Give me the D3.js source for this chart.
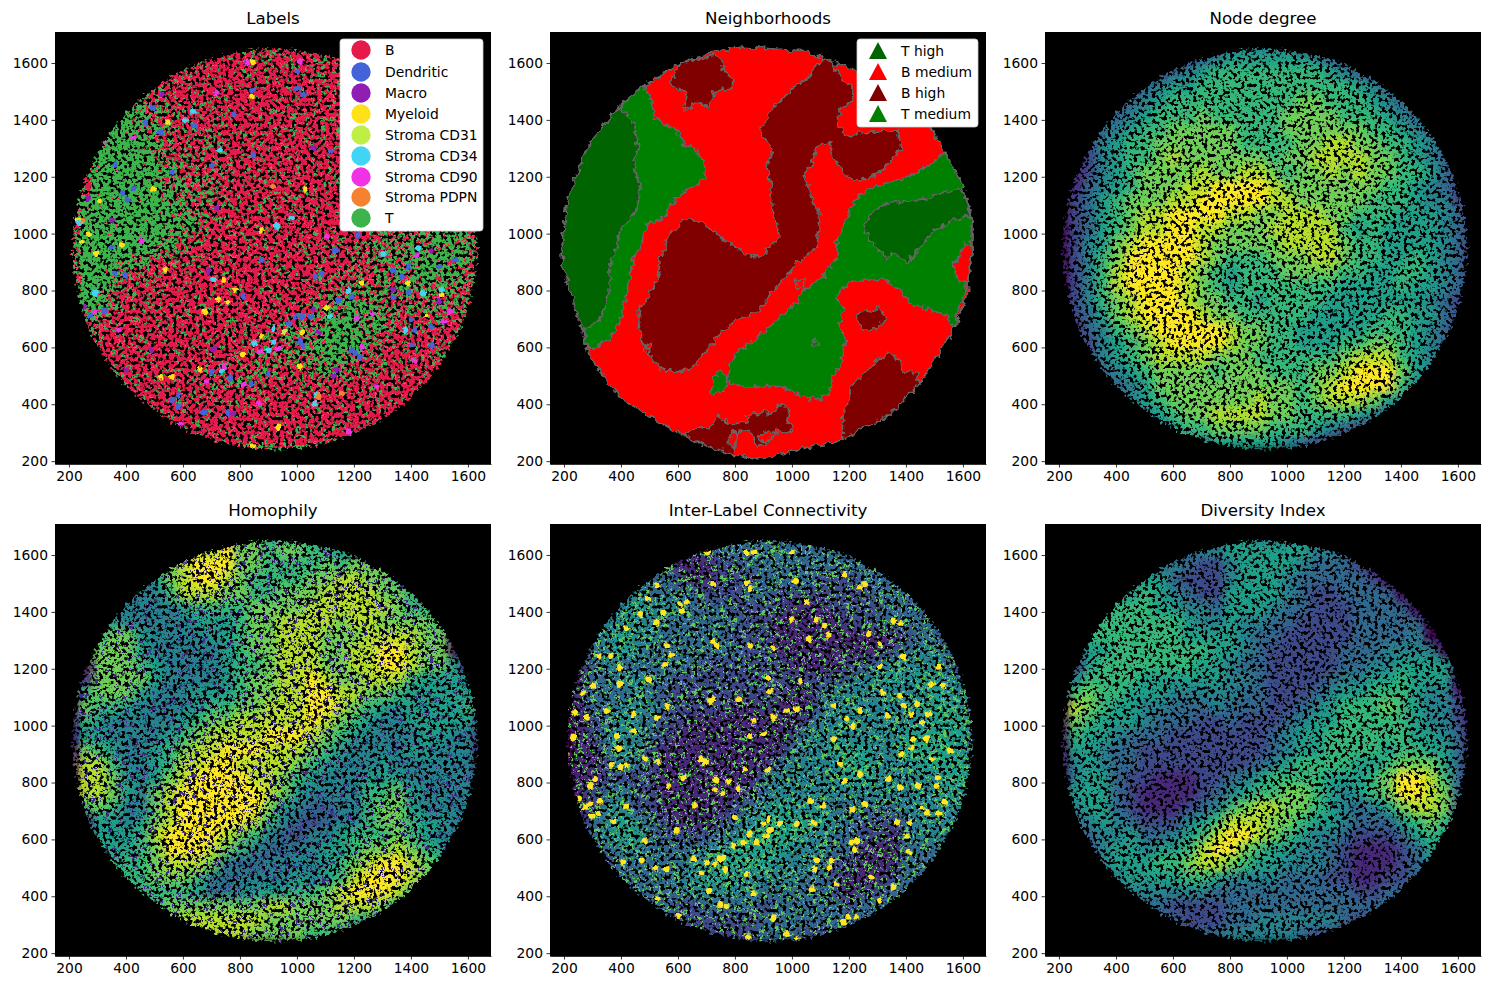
<!DOCTYPE html>
<html>
<head>
<meta charset="utf-8">
<script src="https://cdn.jsdelivr.net/npm/d3@7"></script>
<style>
html, body { margin: 0; padding: 0; background: #fff; }
text { font-family: "DejaVu Sans", sans-serif; fill: #000; }
</style>
</head>
<body>
<svg id="chart" width="1490" height="990"></svg>
<script>
const xTicks = [200, 400, 600, 800, 1000, 1200, 1400, 1600];
const yTicks = [200, 400, 600, 800, 1000, 1200, 1400, 1600];
const titles = ['Labels', 'Neighborhoods', 'Node degree', 'Homophily', 'Inter-Label Connectivity', 'Diversity Index'];

const labelNames = ['B', 'Dendritic', 'Macro', 'Myeloid', 'Stroma CD31', 'Stroma CD34', 'Stroma CD90', 'Stroma PDPN', 'T'];
const labelColors = ['#e6194b', '#4363d8', '#911eb4', '#ffe119', '#bfef45', '#42d4f4', '#f032e6', '#f58231', '#3cb44b'];
const hoodNames = ['T high', 'B medium', 'B high', 'T medium'];
const hoodColors = ['#006400', '#ff0000', '#800000', '#008000'];

// each grid: 50 unit cells, first row is y 1640-1690, first column x 180-230
const gridX0 = 180, gridYTop = 1690, gridStep = 50;

// share of T cells per grid cell, 0-9, rest is B
const labelsT = [
'000000000000552222000000000000',
'000000000321111222211000000000',
'000000034111111112222000000000',
'000005522111111111112100000000',
'000044431111111111111110000000',
'000666532211111111111111000000',
'006876543211111111111111110000',
'007887543321111111111111110000',
'018987644321111111111111100000',
'018887754321111111211111110000',
'018888755431111121111111111100',
'078888765432111111111111111110',
'088898876532111111112234445550',
'088898776421111111122345556660',
'088887654211111111122345556660',
'088766532111111112223445666650',
'088644321111111112234445566650',
'088432211111111112334445665550',
'087322111111111123455545544440',
'066211111111111234567653234330',
'043211111111122345677643223320',
'032111111111233456787532223320',
'022111111122334555665322222220',
'001211111223343334553221222200',
'000111111233322222222211122000',
'000011111222221111111111110000',
'000001111111111111111111100000',
'000000111111111111111110000000',
'000000001111111111110000000000'];

const nodeDegree = [
'000000000000344440000000000000',
'000000000234555555432000000000',
'000000023456666666654320000000',
'000002345566666666666543200000',
'000023456666666667766654320000',
'000234566676666677776665432000',
'002345667777766677777766543200',
'002456677777766667788776654200',
'012456678777777677888877654320',
'012456777787788767787877665320',
'013456777889999877777776654320',
'023567778899999887777766654421',
'023567889999887788877666555431',
'023567889988777888886565555431',
'024578999987777788887665555431',
'024679999987666777887665565431',
'024689999876566677776655665431',
'024689999876566666665555655431',
'024678999877665666655555554321',
'023578999987766666555556655321',
'013467899999877665555566654310',
'012456789999877665556677654320',
'012456788887776666667888654310',
'001345677776777666778999754200',
'000234577777777776789999643000',
'000234567777778776788875420000',
'000012456778888776666543200000',
'000001235667777666543210000000',
'000000012345555543210000000000'];

const homophily = [
'000000000000776666000000000000',
'000000000889776776654000000000',
'000000078999776666767770000000',
'000003578998766667788776000000',
'000034468887766777888877600000',
'000344445666677778888887660000',
'002544444555677888878877776000',
'006775444455677888777888877000',
'007775444445677888778899877000',
'007776544445667888778899877500',
'017777544445677889877888655550',
'067775444555677889988776555550',
'076654444566778889987655555560',
'065444445677888889876544555550',
'055444456788889998765444455440',
'076544567889998887654444554440',
'088644568899888876544454444440',
'088754578999988765444555444440',
'088754789999998754444667544440',
'067644789999997543344677544440',
'015545789999986432344677655430',
'015556899998764324456667654430',
'016556799987643344556778765430',
'006666788874334444567899876400',
'000566777643444454568999876000',
'000056666534455566789998640000',
'000006677777778877788875500000',
'000000678888887777776543000000',
'000000006888877776650000000000'];

const interLabel = [
'000000000000333333000000000000',
'000000000223333333333000000000',
'000000021112233333333330000000',
'000003332112223333222333000000',
'000034333322233222222233300000',
'000345444333222211122223330000',
'003444433333322111112233333000',
'003454433333222111111111233000',
'013454333333322111111112344300',
'013433333322222211112234444300',
'013344332222222222223445454430',
'023334322222222211344444445441',
'013344432222112111344444455541',
'012344322111111112444444445551',
'012444321111111124444444555551',
'011344211111111134455544555541',
'011243211111111344445544455551',
'011222211111113444445544444551',
'012342211111123444444444444541',
'012442211111234544433333444441',
'013454321112345555543222344430',
'003455322223455554433221344430',
'002344333344555544433111333320',
'001233333445555444322111333200',
'000233334455444443321112332000',
'000023333444443333321223330000',
'000002332233332333332333300000',
'000000232222223333333320000000',
'000000002222223332220000000000'];

const diversity = [
'000000000000554444000000000000',
'000000000344555555443000000000',
'000000034322455554333200000000',
'000004553222455543333320000000',
'000055654322555543223333000000',
'000566655443555433222333300000',
'005666666544544332222333330000',
'006666666555543322222333340000',
'015566666665543222223334444000',
'015666666655433222223344555500',
'046666555555443222234455655500',
'067665554444433222345566654410',
'087655443334333223456667654420',
'076555433322322234556666654420',
'065543332222222345566666655430',
'055433222222222345566665665530',
'045433222222223456666556777530',
'045532211122345666655567998630',
'055532111123456677654567998730',
'045532111234678877654345788720',
'034543222456888776554333567620',
'023445334568998765443222356520',
'012455455689976554432111235420',
'002455566788765544432111234300',
'000345555665444433322112233000',
'000034444443333333333223330000',
'000002332222333333333333300000',
'000000233222334444443220000000',
'000000002233444443220000000000'];

// scattered minor cell types in the Labels panel
const dendriticPts = [[1003,1512],[1020,1490],[842,1505],[495,1441],[467,1389],[519,1357],[846,1276],[389,1142],[425,1160],[361,1241],[405,1120],[640,1380],[700,1240],[1180,1340],[1120,1290],[1000,1570],[780,1420],[560,1215],[1204,579],[1222,567],[970,684],[993,708],[1017,708],[1046,708],[1146,766],[1192,778],[1087,860],[1064,848],[1339,872],[1368,848],[1391,884],[1339,778],[1391,795],[1415,661],[1403,696],[1473,672],[1473,608],[1403,608],[1011,620],[1023,602],[584,432],[561,414],[584,391],[672,370],[759,368],[1192,590],[327,731],[274,713],[362,860],[397,854],[701,514],[765,491],[900,508],[841,473],[1497,884],[1555,907],[1134,942],[1216,995],[350,954],[876,907],[812,778]];
const macroPts = [[719,1090],[1056,1301],[351,1048],[267,1125],[526,1491],[689,866],[490,590],[709,593],[1075,655],[1058,734],[1339,804],[1473,944],[1497,760],[256,743],[403,520],[1128,500],[1140,522],[777,368]];
const myeloidPts = [[846,1603],[842,1484],[547,1389],[1028,1157],[495,1157],[309,1114],[232,1048],[267,998],[874,1013],[245,971],[297,930],[385,960],[537,872],[742,837],[783,801],[724,769],[756,760],[678,723],[876,641],[809,575],[1019,655],[1105,740],[1227,827],[1456,713],[1508,784],[1391,825],[561,497],[520,497],[660,523],[1009,534],[935,318],[845,253]];
const cd31Pts = [[956,655]];
const cd34Pts = [[635,1428],[607,1399],[730,1294],[982,1055],[930,1027],[239,1037],[291,790],[917,620],[900,590],[736,514],[853,614],[707,837],[1116,708],[1181,801],[1303,928],[1426,948],[1444,790],[1380,661],[1508,804],[1064,403],[1069,432],[917,667]];
const cd90Pts = [[719,1494],[1010,1603],[825,1603],[425,1336],[319,1322],[1420,925],[871,584],[742,532],[935,596],[373,661],[291,725],[455,977],[590,327],[1181,303],[1537,727],[1514,690],[1280,461],[1227,602],[812,471],[1210,702],[1409,555],[683,482],[865,403],[1105,989],[1263,719]];
const pdpnPts = [[916,1164],[249,1048],[1157,438],[1075,426]];

// bright cells in the Inter-Label panel
const interLabelHigh = [[865,1611],[841,1607],[999,1609],[1011,1509],[841,1503],[853,1480],[724,1498],[703,1609],[631,1433],[607,1427],[496,1445],[525,1494],[613,1404],[549,1395],[467,1392],[525,1363],[420,1342],[736,1281],[724,1298],[560,1283],[362,1245],[321,1243],[286,1278],[578,1248],[555,1213],[496,1163],[268,1116],[303,1140],[397,1146],[239,1048],[350,1052],[443,1040],[525,1028],[560,1070],[397,1204],[853,1281],[935,1271],[1058,1304],[1268,1322],[1309,1286],[1356,1369],[1380,1357],[1087,1372],[1052,1435],[1239,1486],[1257,1498],[1186,1533],[999,1374],[1116,1351],[1128,1320],[1391,1242],[1309,1207],[1514,1207],[1491,1146],[1532,1140],[917,1167],[1029,1158],[923,1120],[724,1093],[713,1087],[812,1093],[982,1052],[1017,1058],[1145,1070],[1192,1023],[1239,1052],[1333,1034],[1420,1040],[1479,1040],[1456,1009],[1391,1070],[1321,1116],[1380,1105],[1438,1075],[865,1017],[935,1029],[853,964],[1216,999],[900,970],[1473,952],[1426,952],[1145,952],[385,964],[443,982],[280,1028],[233,958],[204,982],
[209,900],[695,870],[683,882],[917,844],[835,847],[291,788],[309,812],[256,744],[327,736],[291,724],[274,715],[297,683],[321,689],[373,663],[418,715],[484,882],[397,855],[367,862],[420,861],[531,874],[566,788],[730,773],[756,763],[812,777],[777,803],[734,808],[619,818],[660,718],[800,679],[596,630],[958,656],[1017,656],[923,630],[912,613],[876,589],[853,618],[900,654],[917,671],[830,589],[795,577],[759,536],[742,530],[730,513],[701,519],[654,534],[765,492],[841,478],[683,484],[710,419],[771,366],[748,369],[601,331],[560,495],[520,499],[408,522],[473,527],[528,393],[1064,736],[1110,718],[1075,659],[1227,595],[1210,589],[1222,566],[1087,527],[1140,525],[1131,503],[1081,495],[1069,425],[1157,443],[1198,325],[1181,308],[1225,328],[1280,466],[1356,431],[1309,384],[1409,557],[1368,659],[1415,659],[1403,613],[1456,712],[1473,695],[1514,691],[1537,732],[1508,788],[1444,788],[1339,812],[1380,783],[1257,724],[1213,703],[1239,829],[1169,865],[1186,806],[1491,882],[1420,923],[1385,900],[1555,912],[1514,818],[935,323],[982,267],[1017,249],[845,257],[865,407],[391,921],[484,595]];

// neighborhood outlines, in the same x/y units as the axes
const tissueEdge = [[747,1645],[818,1656],[1028,1645],[1109,1617],[1214,1575],[1379,1494],[1495,1364],[1530,1283],[1590,1188],[1632,1058],[1632,932],[1614,777],[1565,661],[1449,474],[1333,355],[1168,274],[1018,239],[881,204],[782,228],[618,291],[407,415],[291,566],[263,661],[197,882],[193,949],[211,1107],[246,1213],[291,1318],[397,1452],[484,1522],[607,1600]];
const tMediumLeft = [[484,1522],[519,1434],[512,1410],[607,1354],[618,1311],[660,1301],[695,1234],[695,1195],[632,1153],[572,1100],[554,1058],[491,1037],[467,953],[439,907],[425,801],[397,706],[372,643],[291,590],[267,661],[333,706],[354,777],[361,872],[379,942],[397,1012],[456,1083],[467,1153],[442,1259],[460,1294],[449,1375],[397,1452]];
const tHighLeft = [[397,1452],[449,1375],[460,1294],[442,1259],[467,1153],[456,1083],[397,1012],[379,942],[361,872],[354,777],[333,706],[267,661],[263,661],[197,882],[193,949],[211,1107],[246,1213],[291,1318]];
const bHighMain = [[1119,1617],[1081,1586],[1063,1551],[993,1505],[965,1470],[923,1434],[912,1399],[888,1364],[895,1340],[933,1304],[912,1234],[923,1188],[930,1093],[958,988],[888,917],[828,931],[782,967],[712,1019],[667,1048],[618,1048],[565,988],[537,907],[530,837],[491,773],[460,724],[467,650],[484,590],[537,531],[590,510],[660,538],[702,590],[758,661],[807,696],[877,724],[912,773],[958,826],[1018,896],[1088,953],[1098,1058],[1063,1143],[1039,1206],[1074,1248],[1081,1301],[1133,1322],[1144,1269],[1193,1199],[1263,1188],[1319,1223],[1386,1304],[1372,1364],[1239,1354],[1193,1340],[1158,1389],[1168,1434],[1214,1470],[1214,1515],[1175,1540],[1144,1600]];
const bHighTop = [[730,1628],[758,1600],[765,1565],[793,1540],[790,1512],[723,1498],[712,1442],[667,1463],[618,1434],[632,1487],[572,1533],[597,1575],[607,1600]];
const tMediumRight = [[1537,1283],[1474,1234],[1404,1199],[1284,1164],[1228,1128],[1193,1058],[1158,977],[1158,917],[1109,847],[1039,801],[1018,756],[958,706],[877,633],[818,590],[790,566],[775,509],[782,474],[853,457],[958,467],[1028,432],[1088,415],[1133,443],[1144,502],[1175,555],[1186,636],[1168,685],[1179,742],[1158,766],[1179,808],[1204,830],[1319,844],[1372,808],[1414,756],[1509,724],[1537,714],[1572,668],[1600,766],[1614,826],[1625,917],[1632,1058],[1590,1188]];
const tHighRight = [[1256,1023],[1284,1083],[1354,1111],[1460,1118],[1519,1143],[1579,1153],[1607,1143],[1625,1058],[1565,1048],[1509,1019],[1449,953],[1407,896],[1354,931],[1333,914],[1274,977]];
const bMediumEdgeA = [[1607,967],[1632,942],[1628,914],[1614,826],[1583,837],[1565,889],[1590,924]];
const bMediumEdgeB = [[1590,759],[1604,759],[1583,703],[1572,690]];
const bHighSmall = [[1228,706],[1246,731],[1284,724],[1302,742],[1333,696],[1284,661],[1249,661]];
const bHighLower = [[1176,284],[1179,355],[1204,425],[1204,460],[1256,509],[1302,555],[1337,580],[1386,555],[1390,513],[1439,510],[1449,474],[1333,355],[1168,274]];
const bHighBottom = [[625,291],[649,316],[712,316],[740,362],[775,334],[842,337],[846,362],[895,372],[930,369],[951,397],[993,386],[982,344],[1011,316],[986,298],[947,309],[912,263],[877,246],[853,309],[818,309],[793,228],[775,228],[712,249],[618,291]];
const bMediumHole = [[782,300],[812,300],[795,250],[780,256]];
const tMediumSpot = [[754,520],[775,495],[765,450],[712,432],[730,495]];
const ringA = [[1070,625],[1095,625],[1095,605],[1070,605]];
const ringB = [[485,605],[505,615],[500,590],[480,590]];
const ringC = [[1010,830],[1040,840],[1045,815],[1020,805]];
const ringD = [[880,290],[925,310],[945,295],[900,265]];

const hoodShapes = [
  { pts: tissueEdge, fill: hoodColors[1] },
  { pts: tMediumLeft, fill: hoodColors[3] },
  { pts: tHighLeft, fill: hoodColors[0] },
  { pts: bHighMain, fill: hoodColors[2] },
  { pts: bHighTop, fill: hoodColors[2] },
  { pts: tMediumRight, fill: hoodColors[3] },
  { pts: tHighRight, fill: hoodColors[0] },
  { pts: bMediumEdgeA, fill: hoodColors[1] },
  { pts: bMediumEdgeB, fill: hoodColors[1] },
  { pts: bHighSmall, fill: hoodColors[2] },
  { pts: bHighLower, fill: hoodColors[2] },
  { pts: bHighBottom, fill: hoodColors[2] },
  { pts: bMediumHole, fill: hoodColors[1] },
  { pts: tMediumSpot, fill: hoodColors[3] },
  { pts: ringA, fill: hoodColors[3] },
  { pts: ringB, fill: hoodColors[1] },
  { pts: ringC, fill: hoodColors[1] },
  { pts: ringD, fill: hoodColors[1] }
];

const panelW = 436, panelH = 432;
const lefts = [55, 550, 1045], tops = [32, 524];
const x = d3.scaleLinear().domain([151, 1681]).range([0, panelW]);
const y = d3.scaleLinear().domain([190, 1709]).range([panelH, 0]);

const svg = d3.select('#chart');
const defs = svg.append('defs');

// disc of tissue that holds all the cells
defs.append('clipPath').attr('id', 'disc').append('ellipse')
  .attr('cx', x(922)).attr('cy', y(945))
  .attr('rx', x(922 + 708) - x(922)).attr('ry', y(945) - y(945 + 704));

function addFilter(id) {
  return defs.append('filter').attr('id', id)
    .attr('filterUnits', 'userSpaceOnUse')
    .attr('x', -10).attr('y', -10).attr('width', panelW + 20).attr('height', panelH + 20)
    .attr('color-interpolation-filters', 'sRGB');
}

// softens the coarse grid so the field varies gradually
addFilter('soft').append('feGaussianBlur').attr('stdDeviation', 4.5);

// grain: scrambles cells at pixel level and punches the black gaps between them
const grain = addFilter('grain');
grain.append('feTurbulence').attr('type', 'fractalNoise').attr('baseFrequency', 0.33)
  .attr('numOctaves', 1).attr('seed', 4).attr('result', 'n');
grain.append('feDisplacementMap').attr('in', 'SourceGraphic').attr('in2', 'n').attr('scale', 12)
  .attr('xChannelSelector', 'R').attr('yChannelSelector', 'G').attr('result', 'moved');
grain.append('feTurbulence').attr('type', 'fractalNoise').attr('baseFrequency', 0.27)
  .attr('numOctaves', 2).attr('seed', 9).attr('result', 'n2');
grain.append('feColorMatrix').attr('in', 'n2').attr('type', 'matrix')
  .attr('values', '0 0 0 0 0 0 0 0 0 0 0 0 0 0 0 0 0 10 0 -3.8').attr('result', 'holes');
grain.append('feComposite').attr('in', 'moved').attr('in2', 'holes').attr('operator', 'in');

// flood colour where the alpha of the source beats a noise threshold
function addCut(id, color, seed, freq) {
  const f = addFilter(id);
  f.append('feTurbulence').attr('type', 'fractalNoise').attr('baseFrequency', freq)
    .attr('numOctaves', 2).attr('seed', seed).attr('result', 'n');
  f.append('feColorMatrix').attr('in', 'n').attr('type', 'matrix')
    .attr('values', '0 0 0 0 0 0 0 0 0 0 0 0 0 0 0 1 0 0 0 0').attr('result', 'na');
  f.append('feGaussianBlur').attr('in', 'SourceAlpha').attr('stdDeviation', 4.5).attr('result', 'sa');
  f.append('feComposite').attr('in', 'sa').attr('in2', 'na').attr('operator', 'arithmetic')
    .attr('k1', 0).attr('k2', 1).attr('k3', 1).attr('k4', -1).attr('result', 'sum');
  f.append('feColorMatrix').attr('in', 'sum').attr('type', 'matrix')
    .attr('values', '0 0 0 0 0 0 0 0 0 0 0 0 0 0 0 0 0 0 30 0').attr('result', 'cut');
  f.append('feFlood').attr('flood-color', color).attr('result', 'fl');
  f.append('feComposite').attr('in', 'fl').attr('in2', 'cut').attr('operator', 'in');
}
addCut('cutB', labelColors[0], 11, 0.22);
addCut('speckDark', '#3f2f86', 21, 0.24);
addCut('speckGreen', '#62c95e', 23, 0.24);

// rough edge of the neighborhood regions and the single cells
function addRough(id, freq, scale) {
  const f = addFilter(id);
  f.append('feTurbulence').attr('type', 'fractalNoise').attr('baseFrequency', freq)
    .attr('numOctaves', 2).attr('seed', 7).attr('result', 'n');
  f.append('feDisplacementMap').attr('in', 'SourceGraphic').attr('in2', 'n').attr('scale', scale)
    .attr('xChannelSelector', 'R').attr('yChannelSelector', 'G');
}
addRough('rough', 0.16, 9);
addRough('roughDots', 0.2, 5);

const toCells = rows => rows.flatMap((row, r) => Array.from(row, (ch, c) => ({ c, r, v: +ch })));
const cellW = x(gridX0 + gridStep) - x(gridX0);
const cellH = y(gridYTop - gridStep) - y(gridYTop);

function drawCells(g, rows, fill, opacity) {
  g.selectAll('rect').data(toCells(rows)).enter().append('rect')
    .attr('x', d => x(gridX0 + d.c * gridStep))
    .attr('y', d => y(gridYTop - d.r * gridStep))
    .attr('width', cellW + 0.6)
    .attr('height', cellH + 0.6)
    .attr('shape-rendering', 'crispEdges')
    .attr('fill', fill)
    .attr('fill-opacity', opacity || 1);
}

function drawDots(g, pts, color, r) {
  g.append('g').selectAll('circle').data(pts).enter().append('circle')
    .attr('cx', d => x(d[0])).attr('cy', d => y(d[1])).attr('r', r).attr('fill', color);
}

function panel(i) {
  const g = svg.append('g').attr('transform', `translate(${lefts[i % 3]},${tops[i < 3 ? 0 : 1]})`);
  g.append('rect').attr('width', panelW).attr('height', panelH).attr('fill', '#000');
  return g;
}

function finishPanel(g, i) {
  const frame = g.append('g');
  frame.append('g').attr('transform', `translate(0,${panelH})`)
    .call(d3.axisBottom(x).tickValues(xTicks).tickSize(3.5).tickSizeOuter(0).tickPadding(3.5).tickFormat(d3.format('d')));
  frame.append('g')
    .call(d3.axisLeft(y).tickValues(yTicks).tickSize(3.5).tickSizeOuter(0).tickPadding(3.5).tickFormat(d3.format('d')));
  frame.selectAll('text').style('font-size', '13.89px').style('font-family', '"DejaVu Sans"');
  frame.selectAll('.domain').attr('stroke', '#000').attr('stroke-width', 0.8);
  frame.selectAll('.tick line').attr('stroke', '#000').attr('stroke-width', 0.8);
  g.append('text').attr('x', panelW / 2).attr('y', -8).attr('text-anchor', 'middle')
    .style('font-size', '16.67px').text(titles[i]);
}

function drawLegend(g, box, names, colors, rowY, markerX, textX, marker) {
  const lg = g.append('g');
  lg.append('rect').attr('x', box[0]).attr('y', box[1]).attr('width', box[2]).attr('height', box[3])
    .attr('rx', 3).attr('fill', '#fff').attr('stroke', '#ccc').attr('stroke-width', 0.8);
  names.forEach((name, k) => {
    const yy = rowY[k];
    if (marker === 'circle') {
      lg.append('circle').attr('cx', markerX).attr('cy', yy).attr('r', 9.7).attr('fill', colors[k]);
    } else {
      lg.append('path').attr('d', `M${markerX},${yy - 9}L${markerX + 9},${yy + 8}L${markerX - 9},${yy + 8}Z`).attr('fill', colors[k]);
    }
    lg.append('text').attr('x', textX).attr('y', yy + 5).style('font-size', '13.89px').text(name);
  });
}

// Labels
const p0 = panel(0);
const p0Cells = p0.append('g').attr('filter', 'url(#grain)').append('g').attr('clip-path', 'url(#disc)');
drawCells(p0Cells.append('g'), labelsT, labelColors[8]);
drawCells(p0Cells.append('g').attr('filter', 'url(#cutB)'), labelsT, '#000', d => 0.65 - 0.02 * d.v - 0.004 * d.v * d.v);
const p0Dots = p0.append('g').attr('filter', 'url(#roughDots)').append('g').attr('clip-path', 'url(#disc)');
drawDots(p0Dots, dendriticPts, labelColors[1], 3);
drawDots(p0Dots, macroPts, labelColors[2], 2.8);
drawDots(p0Dots, myeloidPts, labelColors[3], 2.8);
drawDots(p0Dots, cd31Pts, labelColors[4], 2.8);
drawDots(p0Dots, cd34Pts, labelColors[5], 3);
drawDots(p0Dots, cd90Pts, labelColors[6], 2.8);
drawDots(p0Dots, pdpnPts, labelColors[7], 3);
finishPanel(p0, 0);
drawLegend(p0, [285, 7, 143, 192], labelNames, labelColors, [18, 40, 61, 82, 103, 124, 145, 165, 186], 306, 330, 'circle');

// Neighborhoods
const p1 = panel(1);
const hoodLine = d3.line().x(d => x(d[0])).y(d => y(d[1])).curve(d3.curveLinearClosed);
p1.append('g').attr('filter', 'url(#rough)').selectAll('path').data(hoodShapes).enter().append('path')
  .attr('d', d => hoodLine(d.pts))
  .attr('fill', d => d.fill)
  .attr('stroke', '#666')
  .attr('stroke-width', 1.6)
  .attr('stroke-linejoin', 'round');
finishPanel(p1, 1);
drawLegend(p1, [307, 7, 121, 88], hoodNames, hoodColors, [19, 40, 61, 82], 328, 351, 'triangle');

// continuous panels
[[2, nodeDegree], [3, homophily], [4, interLabel], [5, diversity]].forEach(([i, rows]) => {
  const g = panel(i);
  const cells = g.append('g').attr('filter', 'url(#grain)').append('g').attr('clip-path', 'url(#disc)');
  drawCells(cells.append('g').attr('filter', 'url(#soft)'), rows, d => d3.interpolateViridis(d.v / 9));
  if (i === 3) {
    cells.append('rect').attr('width', panelW).attr('height', panelH).attr('fill', '#000')
      .attr('fill-opacity', 0.38).attr('filter', 'url(#speckDark)');
  }
  if (i === 4) {
    cells.append('rect').attr('width', panelW).attr('height', panelH).attr('fill', '#000')
      .attr('fill-opacity', 0.4).attr('filter', 'url(#speckGreen)');
    drawDots(g.append('g').attr('filter', 'url(#roughDots)').append('g').attr('clip-path', 'url(#disc)'), interLabelHigh, '#fde725', 3);
  }
  finishPanel(g, i);
});
</script>
</body>
</html>
